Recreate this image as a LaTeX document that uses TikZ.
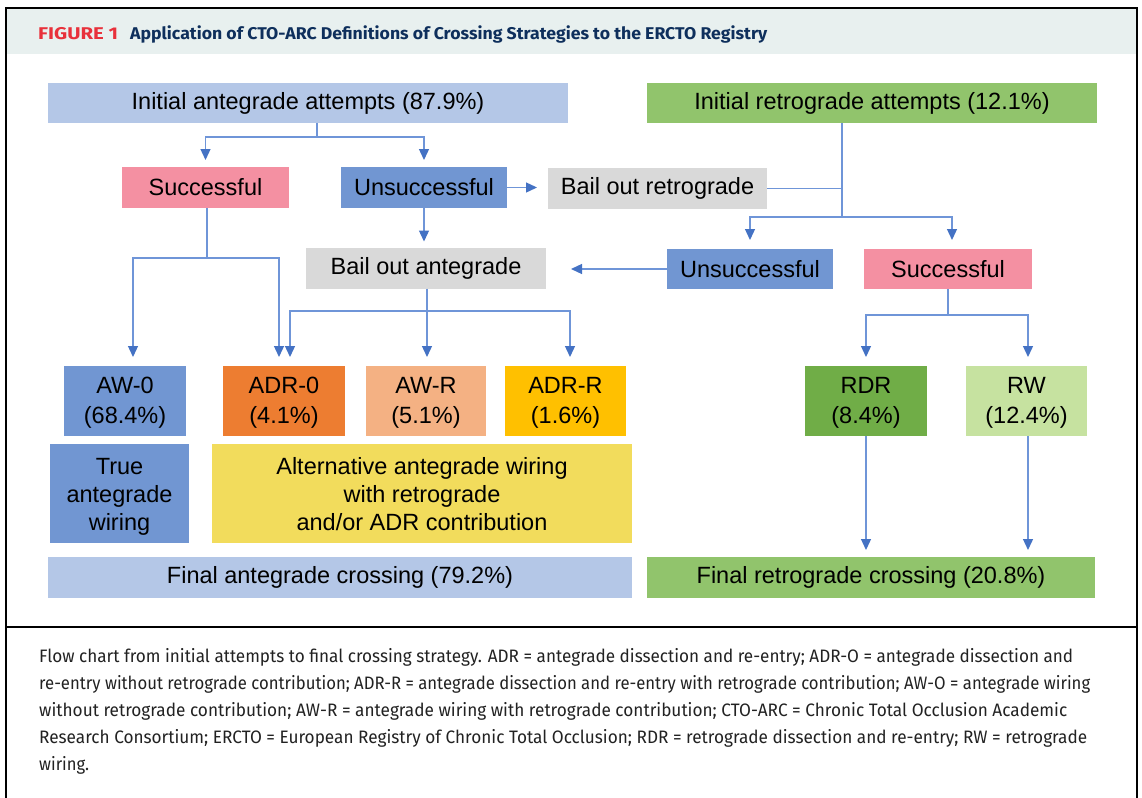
\documentclass[tikz,border=0pt]{standalone}
\usepackage{graphicx}
\usepackage{fontspec}
\setmainfont{Liberation Sans}
\newfontfamily\capfont{Fira Sans}
\usetikzlibrary{arrows.meta,calc}
\definecolor{lblue}{HTML}{B4C7E7}
\definecolor{rgreen}{HTML}{91C46C}
\definecolor{pinkc}{HTML}{F490A2}
\definecolor{bluec}{HTML}{7196D2}
\definecolor{grayc}{HTML}{D9D9D9}
\definecolor{orangec}{HTML}{ED7D31}
\definecolor{lorange}{HTML}{F4B183}
\definecolor{goldc}{HTML}{FFC000}
\definecolor{dgreen}{HTML}{70AD47}
\definecolor{lgreen}{HTML}{C6E2A0}
\definecolor{yellowc}{HTML}{F2DC5C}
\definecolor{linecol}{HTML}{6F95D8}
\definecolor{tipcol}{HTML}{4472C4}
\definecolor{headbg}{HTML}{E8F0EF}
\definecolor{figred}{HTML}{E8313B}
\definecolor{navy}{HTML}{0E2F5C}
\definecolor{captext}{HTML}{222222}
\newcommand{\mlines}[2][0pt]{\raisebox{#1}[\height][\depth]{\begin{tabular}{@{}c@{}}#2\end{tabular}}}
\begin{document}
\begin{tikzpicture}[x=1pt,y=-1pt,
  box/.style={inner sep=0pt, outer sep=0pt, align=center, font=\fontsize{23.5}{28}\selectfont, text=black},
  conn/.style={draw=linecol, line width=1.3pt},
  arr/.style={conn, -{Triangle[length=11pt,width=10pt,color=tipcol]}},
  capline/.style={anchor=base west, inner sep=0pt, text=captext, font=\capfont\fontsize{18}{22}\selectfont},
  titlefont/.style={anchor=base west, inner sep=0pt, font=\capfont\bfseries\fontsize{17}{20}\selectfont}
]
\useasboundingbox (0,0) rectangle (1142,797);
\fill[white] (0,0) rectangle (1142,797);
% header band and frame
\fill[headbg] (7,9) rectangle (1136,54);
\draw[line width=2pt] (6,801) -- (6,8) -- (1137,8) -- (1137,801);
\draw[line width=2pt] (6,627) -- (1137,627);
\node[titlefont, text=figred] (fig) at (38,40) {\resizebox{80pt}{\height}{FIGURE 1}};
\node[titlefont, text=navy] (title) at (130,40) {\resizebox{637pt}{\height}{Application of CTO-ARC Definitions of Crossing Strategies to the ERCTO Registry}};

% boxes
\node[box, fill=lblue, minimum width=520, minimum height=40] (iaa) at (308,103) {Initial antegrade attempts (87.9\%)};
\node[box, fill=rgreen, minimum width=450, minimum height=40] (ira) at (872,103) {Initial retrograde attempts (12.1\%)};
\node[box, fill=pinkc, minimum width=167, minimum height=41] (sucL) at (205.5,187.5) {Successful};
\node[box, fill=bluec, minimum width=166, minimum height=41] (unsL) at (424,187.5) {Unsuccessful};
\node[box, fill=grayc, minimum width=219, minimum height=41] (bor) at (657.5,188.5) {Bail out retrograde};
\node[box, fill=grayc, minimum width=240, minimum height=41] (boa) at (426,268) {Bail out antegrade};
\node[box, fill=bluec, minimum width=166, minimum height=40] (unsR) at (750,269) {Unsuccessful};
\node[box, fill=pinkc, minimum width=168, minimum height=40] (sucR) at (948,269) {Successful};
\node[box, fill=bluec, minimum width=122, minimum height=70] (aw0) at (125,401) {\mlines[-2pt]{AW-0\\[2pt](68.4\%)}};
\node[box, fill=orangec, minimum width=122, minimum height=70] (adr0) at (284,401) {\mlines[-2pt]{ADR-0\\[2pt](4.1\%)}};
\node[box, fill=lorange, minimum width=120, minimum height=70] (awr) at (426,401) {\mlines[-2pt]{AW-R\\[2pt](5.1\%)}};
\node[box, fill=goldc, minimum width=121, minimum height=70] (adrr) at (565.5,401) {\mlines[-2pt]{ADR-R\\[2pt](1.6\%)}};
\node[box, fill=dgreen, minimum width=122, minimum height=70] (rdr) at (866,401) {\mlines[-2pt]{RDR\\[2pt](8.4\%)}};
\node[box, fill=lgreen, minimum width=121, minimum height=70] (rw) at (1026.5,401) {\mlines[-2pt]{RW\\[2pt](12.4\%)}};
\node[box, fill=bluec, minimum width=139, minimum height=99] (taw) at (119.5,493.5) {\mlines[-3pt]{True\\antegrade\\wiring}};
\node[box, fill=yellowc, minimum width=420, minimum height=99] (alt) at (422,493.5) {\mlines[-3pt]{Alternative antegrade wiring\\with retrograde\\and/or ADR contribution}};
\node[box, fill=lblue, minimum width=584, minimum height=41] (fac) at (340,577.5) {Final antegrade crossing (79.2\%)};
\node[box, fill=rgreen, minimum width=448, minimum height=41] (frc) at (871,577.5) {Final retrograde crossing (20.8\%)};

% connectors
\coordinate (ja) at (317,137);
\draw[conn] (ja |- iaa.south) -- (ja);
\draw[arr, shorten >=7pt] (ja) -| (sucL.north);
\draw[arr, shorten >=7pt] (ja) -| (unsL.north);
\draw[arr, shorten >=11pt] (unsL.east) -- (unsL.east -| bor.west);
\draw[arr, shorten >=6pt] (unsL.south) -- (unsL.south |- boa.north);

\coordinate (jb) at (207,258);
\draw[conn] (jb |- sucL.south) -- (jb);
\draw[arr, shorten >=9pt] (jb) -| ([xshift=8pt]aw0.north);
\draw[arr, shorten >=9pt] (jb) -| ([xshift=-5pt]adr0.north);

\coordinate (jc) at (427,311);
\draw[conn] (jc |- boa.south) -- (jc);
\draw[arr, shorten >=9pt] (jc) -| ([xshift=6pt]adr0.north);
\draw[arr, shorten >=9pt] (jc) -- (jc |- awr.north);
\draw[arr, shorten >=9pt] (jc) -| ([xshift=4.5pt]adrr.north);

\coordinate (jd) at (842,217);
\draw[conn] (jd |- ira.south) -- (jd);
\draw[conn] (bor.east) -- (bor.east -| jd);
\draw[arr, shorten >=9pt] (jd) -| (unsR.north);
\draw[arr, shorten >=9pt] (jd) -| ([xshift=4pt]sucR.north);
\draw[arr, shorten >=25pt] (unsR.west) -- (unsR.west -| boa.east);

\coordinate (je) at (948,315);
\draw[conn] (sucR.south) -- (je);
\draw[arr, shorten >=9pt] (je) -| (rdr.north);
\draw[arr, shorten >=9pt] (je) -| ([xshift=1.5pt]rw.north);
\draw[arr, shorten >=7pt] (rdr.south) -- (rdr.south |- frc.north);
\draw[arr, shorten >=7pt] ([xshift=1.5pt]rw.south) -- ([xshift=1.5pt]rw.south |- frc.north);

% caption
\node[capline] (c1) at (39,662) {\resizebox{1034pt}{\height}{Flow chart from initial attempts to final crossing strategy. ADR = antegrade dissection and re-entry; ADR-O = antegrade dissection and}};
\node[capline] (c2) at (39,689.2) {\resizebox{1051pt}{\height}{re-entry without retrograde contribution; ADR-R = antegrade dissection and re-entry with retrograde contribution; AW-O = antegrade wiring}};
\node[capline] (c3) at (39,716.4) {\resizebox{1028pt}{\height}{without retrograde contribution; AW-R = antegrade wiring with retrograde contribution; CTO-ARC = Chronic Total Occlusion Academic}};
\node[capline] (c4) at (39,743.6) {\resizebox{1048pt}{\height}{Research Consortium; ERCTO = European Registry of Chronic Total Occlusion; RDR = retrograde dissection and re-entry; RW = retrograde}};
\node[capline] (c5) at (39,770.8) {\resizebox{50pt}{\height}{wiring.}};
\end{tikzpicture}
\end{document}
